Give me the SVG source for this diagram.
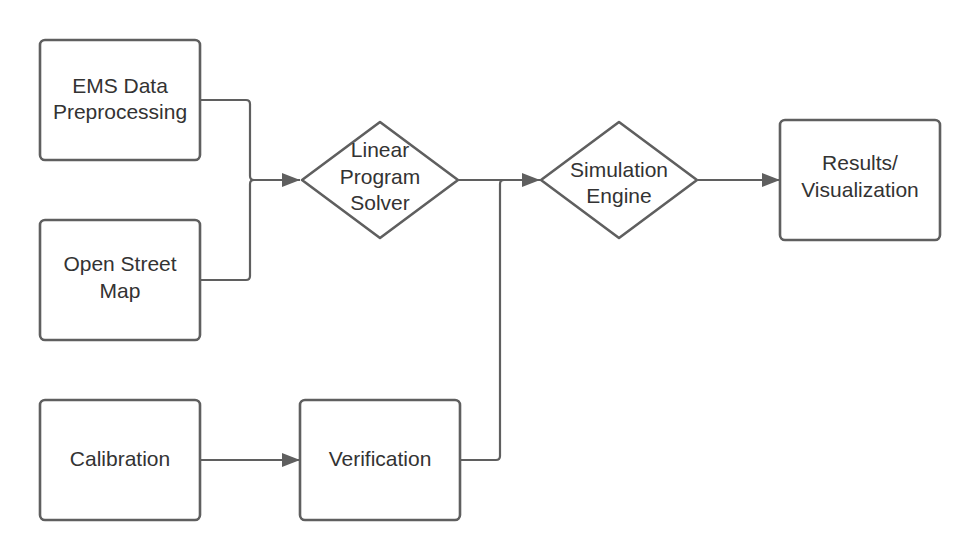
<svg xmlns="http://www.w3.org/2000/svg" width="980" height="560" viewBox="0 0 980 560">
<style>
.box{fill:#fff;stroke:#5f5f5f;stroke-width:2.6}
.line{fill:none;stroke:#5f5f5f;stroke-width:2.2}
text{font-family:"Liberation Sans",Arial,sans-serif;font-size:21px;fill:#333;text-anchor:middle}
</style>
<defs>
<marker id="arr" viewBox="0 0 18 14" refX="18" refY="7" markerWidth="18" markerHeight="14" markerUnits="userSpaceOnUse" orient="auto">
<path d="M0,0 L18,7 L0,14 Z" fill="#5f5f5f"/>
</marker>
</defs>
<rect width="980" height="560" fill="#fff"/>
<g id="connectors">
<path class="line" d="M200,100 H246 Q250,100 250,104 V176 Q250,180 254,180 H300" marker-end="url(#arr)"/>
<path class="line" d="M200,280 H246 Q250,280 250,276 V184 Q250,180 254,180"/>
<path class="line" d="M458,180 H540" marker-end="url(#arr)"/>
<path class="line" d="M460,460 H496 Q500,460 500,456 V184 Q500,180 504,180"/>
<path class="line" d="M698,180 H780" marker-end="url(#arr)"/>
<path class="line" d="M200,460 H300" marker-end="url(#arr)"/>
</g>
<g id="ems">
<rect class="box" x="40" y="40" width="160" height="120" rx="5"/>
<text x="120" y="93">EMS Data</text>
<text x="120" y="119">Preprocessing</text>
</g>
<g id="osm">
<rect class="box" x="40" y="220" width="160" height="120" rx="5"/>
<text x="120" y="271">Open Street</text>
<text x="120" y="298">Map</text>
</g>
<g id="calibration">
<rect class="box" x="40" y="400" width="160" height="120" rx="5"/>
<text x="120" y="466">Calibration</text>
</g>
<g id="verification">
<rect class="box" x="300" y="400" width="160" height="120" rx="5"/>
<text x="380" y="466">Verification</text>
</g>
<g id="solver">
<path class="box" stroke-linejoin="round" d="M380,122 L458,180 L380,238 L302,180 Z"/>
<text x="380" y="157">Linear</text>
<text x="380" y="184">Program</text>
<text x="380" y="210">Solver</text>
</g>
<g id="simulation">
<path class="box" stroke-linejoin="round" d="M619,122 L697,180 L619,238 L541,180 Z"/>
<text x="619" y="177">Simulation</text>
<text x="619" y="203">Engine</text>
</g>
<g id="results">
<rect class="box" x="780" y="120" width="160" height="120" rx="5"/>
<text x="860" y="170">Results/</text>
<text x="860" y="197">Visualization</text>
</g>
</svg>
